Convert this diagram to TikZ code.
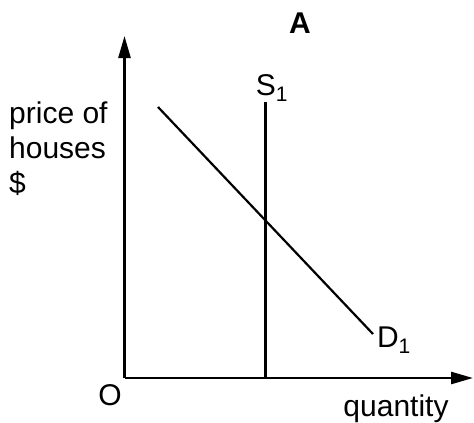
\documentclass[tikz,border=0pt]{standalone}
\usepackage{fontspec}
\setmainfont{Liberation Sans}
\usetikzlibrary{arrows.meta}
\begin{document}
\begin{tikzpicture}[x=1pt,y=-1pt,
  axis/.style={line width=2.6pt,-{Triangle[length=22pt,width=12pt]}},
  curve/.style={line width=2.2pt},
  lbl/.style={inner sep=0pt,font=\fontsize{30}{34}\selectfont}]
\useasboundingbox (0,0) rectangle (474,423);
\coordinate (O) at (124.5,378);
\coordinate (ytop) at (124.5,36);
\coordinate (xend) at (473,378);
\draw[axis] (O) -- (ytop);
\draw[axis] (O) -- (xend);
\coordinate (s1top) at (265.5,102);
\coordinate (s1bot) at (265.5,378);
\draw[curve] (s1top) -- (s1bot);
\coordinate (d1a) at (158,107);
\coordinate (d1b) at (373,334);
\draw[curve] (d1a) -- (d1b);
\node[lbl,font=\fontsize{30}{34}\selectfont\bfseries] (A) at (300,23) {A};
\node[lbl] (S1) at (272,88) {S\textsubscript{1}};
\node[lbl] (D1) at (394,340) {D\textsubscript{1}};
\node[lbl] (Olbl) at (110,395) {O};
\node[lbl] (q) at (396,409) {quantity};
\node[lbl,align=left,anchor=west,font=\fontsize{30}{35}\selectfont] (p) at (9,149) {price of\\houses\\\$};
\end{tikzpicture}
\end{document}
